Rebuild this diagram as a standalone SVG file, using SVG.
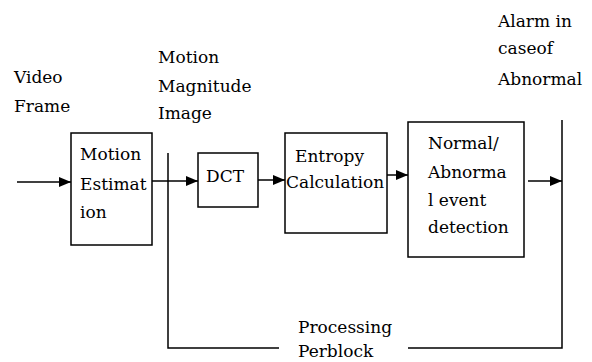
<svg xmlns="http://www.w3.org/2000/svg" width="592" height="362" viewBox="0 0 592 362">
<style>
.box{fill:#fff;stroke:#000;stroke-width:1.5}
.ln{fill:none;stroke:#000;stroke-width:1.5}
.t{font-family:'DejaVu Serif','Liberation Serif',serif;font-size:17px;fill:#000}
</style>
<defs>
<marker id="ah" viewBox="0 0 12 10" refX="12" refY="5" markerWidth="12" markerHeight="10" markerUnits="userSpaceOnUse" orient="auto">
<path d="M0,0 L12,5 L0,10 Z" fill="#000"/>
</marker>
</defs>
<rect width="592" height="362" fill="#fff"/>
<g id="labels" class="t">
<text x="14" y="83">Video</text>
<text x="14" y="112">Frame</text>
<text x="158" y="63">Motion</text>
<text x="158" y="92">Magnitude</text>
<text x="158" y="119">Image</text>
<text x="498" y="27">Alarm in</text>
<text x="498" y="54">caseof</text>
<text x="498" y="85">Abnormal</text>
<text x="298" y="333">Processing</text>
<text x="298" y="357">Perblock</text>
</g>
<g id="connectors">
<polyline class="ln" points="168,153 168,348 279,348"/>
<polyline class="ln" points="408,348 562,348 562,120"/>
<line class="ln" x1="17" y1="182" x2="71" y2="182" marker-end="url(#ah)"/>
<line class="ln" x1="152" y1="181" x2="198" y2="181" marker-end="url(#ah)"/>
<line class="ln" x1="258" y1="180" x2="285" y2="180" marker-end="url(#ah)"/>
<line class="ln" x1="381" y1="175" x2="408" y2="175" marker-end="url(#ah)"/>
<line class="ln" x1="528" y1="181" x2="562" y2="181" marker-end="url(#ah)"/>
</g>
<g id="motion-estimation" class="t">
<rect class="box" x="71" y="133" width="81" height="112"/>
<text x="80" y="160">Motion</text>
<text x="80" y="190">Estimat</text>
<text x="80" y="218">ion</text>
</g>
<g id="dct" class="t">
<rect class="box" x="198" y="153" width="60" height="54"/>
<text x="206" y="182">DCT</text>
</g>
<g id="entropy" class="t">
<rect class="box" x="285" y="133" width="102" height="100"/>
<text x="295" y="162">Entropy</text>
<text x="286" y="188">Calculation</text>
</g>
<g id="detection" class="t">
<rect class="box" x="408" y="122" width="116" height="135"/>
<text x="428" y="149">Normal/</text>
<text x="428" y="178">Abnorma</text>
<text x="428" y="206">l event</text>
<text x="428" y="233">detection</text>
</g>
</svg>
